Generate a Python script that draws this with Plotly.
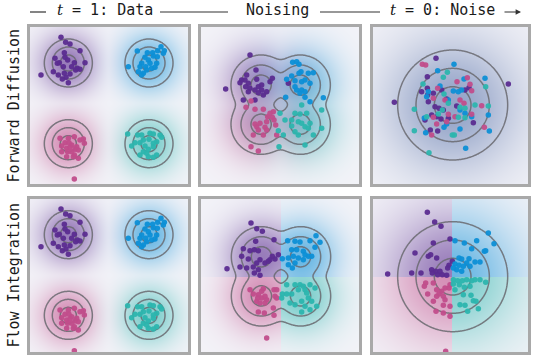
import numpy as np
import plotly.graph_objects as go

# ---------------- data ----------------
MODE_COLORS = ["#5b2c90", "#0d8fd6", "#c14d8b", "#2cb5ae"]  # purple, blue, pink, teal
BG_RGB = (243, 243, 248)

# distribution parameters per stage (chart units)
DATA_CX = [-121, 121, -121, 121]
DATA_CY = [121, 121, -121, -121]
DATA_SIGMA = 24
MID_CX = [-59, 59, -59, 59]
MID_CY = [59, 59, -59, -59]
MID_SIGMA = 30
NOISE_CX = [0, 0, 0, 0]
NOISE_CY = [0, 0, 0, 0]
NOISE_SIGMA = 55
CONTOUR_LEVELS = [1, 2, 3]

TITLE_LABELS = ["<span style='font-family:DejaVu Serif'><i>t</i></span> = 1: Data", "Noising",
                "<span style='font-family:DejaVu Serif'><i>t</i></span> = 0: Noise"]
ROW_LABELS = ["Forward Diffusion", "Flow Integration"]

# samples at t=1 (data)
DATA_PURPLE = [(-143, 198), (-129, 183), (-116, 178), (-86, 158), (-133, 152), (-161, 135), (-131, 138),
               (-148, 122), (-123, 130), (-136, 110), (-103, 122), (-71, 122), (-94, 105), (-86, 102),
               (-99, 100), (-166, 95), (-151, 85), (-133, 90), (-128, 78), (-116, 88), (-139, 73),
               (-121, 62), (-203, 85), (-154, 120), (-111, 110)]
DATA_BLUE = [(86, 157), (116, 152), (132, 152), (157, 170), (147, 158), (164, 150), (146, 140), (134, 142),
             (109, 138), (119, 130), (124, 120), (99, 120), (59, 110), (94, 110), (111, 110), (129, 105),
             (144, 120), (89, 95), (104, 90), (99, 85), (114, 100), (139, 108), (167, 158)]
DATA_PINK = [(-146, -105), (-121, -105), (-103, -100), (-86, -110), (-76, -107), (-73, -120), (-131, -118),
             (-141, -128), (-111, -125), (-126, -135), (-116, -132), (-101, -138), (-91, -140), (-96, -130),
             (-123, -145), (-141, -145), (-103, -155), (-126, -160), (-91, -165), (-106, -160), (-103, -227),
             (-119, -118), (-111, -145)]
DATA_TEAL = [(57, -92), (87, -95), (99, -95), (124, -90), (134, -92), (154, -95), (159, -102), (144, -115),
             (134, -120), (121, -108), (104, -110), (94, -118), (79, -118), (69, -128), (109, -128),
             (119, -138), (134, -130), (104, -145), (94, -155), (119, -160), (144, -155), (134, -162),
             (114, -150)]

# forward diffusion, noising stage
FWD_MID_PURPLE = [(-92, 149), (-74, 104), (-102, 89), (-117, 74), (-107, 74), (-97, 64), (-122, 66), (-92, 49),
                  (-97, 39), (-67, 54), (-57, 59), (-77, 44), (-57, 44), (-42, 39), (-52, 29), (-25, 79),
                  (-32, 69), (-112, 14), (-77, 14), (-165, 47), (-72, 76), (-105, 54), (-67, 36), (23, 64)]
FWD_MID_BLUE = [(36, 127), (48, 129), (55, 121), (61, 99), (83, 94), (98, 96), (18, 76), (33, 86), (43, 72),
                (63, 69), (73, 74), (88, 64), (63, 44), (73, 39), (48, 44), (58, 34), (15, 22), (73, 22),
                (88, 9), (128, 21), (43, 54), (55, 94)]
FWD_MID_PINK = [(-89, 11), (-104, -8), (-77, -14), (-52, -14), (-39, -36), (-25, -38), (-22, -21), (-32, -26),
                (-77, -58), (-72, -66), (-67, -76), (-47, -68), (-42, -76), (-82, -91), (-52, -91), (-15, -61),
                (-12, -91), (-89, -126), (-67, -139), (-62, -56), (-20, -46), (-42, -51)]
FWD_MID_TEAL = [(63, -1), (43, -26), (58, -28), (78, -26), (123, -16), (-2, -26), (13, -46), (33, -46),
                (53, -51), (63, -56), (73, -66), (88, -56), (83, -71), (123, -71), (98, -91), (43, -81),
                (53, -91), (8, -91), (-7, -78), (73, -121), (-5, -126), (33, -64)]

# forward diffusion, t=0 noise
FWD_NOISE_PURPLE = [(-50, 140), (-76, 85), (-76, 50), (-93, 40), (-58, 35), (-33, 45), (-18, 18), (-53, -5),
                    (-41, -10), (-63, -30), (-83, -45), (-48, -35), (-35, -42), (12, -3), (37, 45), (49, 52),
                    (62, -53), (-67, -75), (-45, -78), (167, 63), (-175, 8), (-28, -15), (-73, 10), (-13, -40),
                    (-75, 30)]
FWD_NOISE_BLUE = [(4, 122), (-45, 103), (34, 78), (97, 80), (-73, 40), (-38, 57), (2, 42), (17, 40), (27, 45),
                  (-78, 25), (-13, 15), (22, -15), (37, -25), (57, -35), (-18, -57), (-26, -67), (22, -72),
                  (107, -30), (110, -78), (-81, -83), (39, -130), (-85, -39)]
FWD_NOISE_PINK = [(-91, 122), (-81, 120), (13, 70), (44, 82), (52, 62), (57, 43), (-45, 50), (-58, 20),
                  (-23, 15), (34, 5), (87, -2), (-48, -57), (-18, -50), (7, -35), (-58, -37), (-63, -90),
                  (95, -67), (57, -28), (22, 15), (-13, -28)]
FWD_NOISE_TEAL = [(-16, 98), (-28, 83), (-89, 63), (-26, 33), (99, 55), (-13, 5), (22, -7), (37, -10), (67, 0),
                  (107, -3), (-115, -13), (-78, -35), (-43, -27), (-31, -15), (37, -38), (-1, -90), (5, -90),
                  (-115, -77), (-71, -143), (17, -37)]

# flow integration, noising stage
FLOW_MID_PURPLE = [(-90, 160), (-73, 143), (-56, 135), (-76, 105), (-21, 110), (-113, 83), (-93, 77), (-80, 80),
                   (-68, 77), (-118, 60), (-98, 52), (-63, 50), (-33, 50), (-18, 52), (-8, 65), (-123, 28),
                   (-103, 25), (-83, 28), (-68, 20), (-73, 40), (-48, 40), (-63, 3), (-26, 60), (-162, 23),
                   (-38, 45), (-80, 10)]
FLOW_MID_BLUE = [(20, 107), (42, 105), (57, 103), (87, 107), (105, 122), (117, 102), (32, 80), (47, 80),
                 (67, 75), (82, 60), (92, 60), (102, 87), (4, 53), (22, 55), (37, 60), (52, 55), (67, 50),
                 (42, 40), (22, 35), (34, 25), (72, 65)]
FLOW_MID_PINK = [(-93, -40), (-53, -37), (-21, -40), (-13, -40), (-83, -53), (-68, -55), (-58, -65), (-48, -60),
                 (-43, -70), (-73, -75), (-63, -80), (-48, -80), (-18, -60), (-13, -65), (-23, -95),
                 (-68, -107), (-50, -110), (-21, -117), (-43, -185), (-58, -45), (-70, -65)]
FLOW_MID_TEAL = [(17, -25), (42, -25), (57, -25), (67, -30), (87, -25), (102, -35), (4, -53), (17, -53),
                 (32, -53), (52, -40), (72, -40), (2, -65), (27, -80), (42, -85), (62, -75), (82, -65),
                 (92, -75), (72, -90), (62, -107), (87, -100), (107, -90), (77, -50)]

# flow integration, t=0 noise
FLOW_NOISE_PURPLE = [(-76, 193), (-54, 164), (-35, 151), (-58, 101), (-113, 71), (-73, 61), (-66, 66),
                     (-48, 56), (-8, 113), (-1, 46), (-11, 34), (-15, 26), (-123, 11), (-95, 11), (-63, 21),
                     (-51, 16), (-45, 6), (-31, 6), (-18, 4), (-38, 16), (-195, 8), (-61, 11)]
FLOW_NOISE_BLUE = [(107, 131), (124, 99), (7, 108), (35, 101), (72, 108), (57, 84), (95, 76), (19, 56),
                   (27, 53), (49, 54), (67, 44), (82, 44), (7, 38), (19, 34), (32, 31), (52, 31), (42, 41),
                   (2, 26), (12, 21), (27, 16), (99, 78)]
FLOW_NOISE_PINK = [(-81, -19), (-58, -19), (-85, -29), (-75, -52), (-48, -39), (-33, -44), (-41, -52),
                   (-48, -59), (-28, -59), (-23, -69), (-11, -34), (-8, -24), (-58, -74), (-28, -86),
                   (-8, -89), (-50, -104), (-28, -109), (-8, -119), (-21, -224), (-23, -34)]
FLOW_NOISE_TEAL = [(2, -9), (15, -12), (29, -12), (42, -9), (57, -12), (67, -9), (82, -9), (99, -17),
                   (20, -24), (35, -32), (7, -39), (52, -29), (32, -54), (22, -84), (37, -86), (62, -72),
                   (55, -56), (70, -74), (45, -104), (77, -96), (2, -22)]

# ---------------- layout geometry ----------------
W, H = 533, 357
GAMMA = 0.15
AMAX = 0.6

def fx(px):
    return px / W

def fy(py):
    return 1 - py / H

# (row, col): inner box (left, top, right, bottom) in px, x range, y range
PANELS = {
    (1, 1): ((30, 27, 188, 184), [-236, 238], [-242, 229]),
    (1, 2): ((201, 27, 359, 184), [-239, 235], [-238, 233]),
    (1, 3): ((373, 27, 528, 184), [-239, 226], [-237, 234]),
    (2, 1): ((30, 199, 188, 352), [-236, 238], [-231, 228]),
    (2, 2): ((201, 199, 359, 352), [-240, 234], [-227, 232]),
    (2, 3): ((373, 199, 528, 352), [-239, 226], [-226, 233]),
}

STAGES = {
    1: (DATA_CX, DATA_CY, DATA_SIGMA),
    2: (MID_CX, MID_CY, MID_SIGMA),
    3: (NOISE_CX, NOISE_CY, NOISE_SIGMA),
}

SAMPLES = {
    (1, 1): [DATA_PURPLE, DATA_BLUE, DATA_PINK, DATA_TEAL],
    (1, 2): [FWD_MID_PURPLE, FWD_MID_BLUE, FWD_MID_PINK, FWD_MID_TEAL],
    (1, 3): [FWD_NOISE_PURPLE, FWD_NOISE_BLUE, FWD_NOISE_PINK, FWD_NOISE_TEAL],
    (2, 1): [DATA_PURPLE, DATA_BLUE, DATA_PINK, DATA_TEAL],
    (2, 2): [FLOW_MID_PURPLE, FLOW_MID_BLUE, FLOW_MID_PINK, FLOW_MID_TEAL],
    (2, 3): [FLOW_NOISE_PURPLE, FLOW_NOISE_BLUE, FLOW_NOISE_PINK, FLOW_NOISE_TEAL],
}

STEP = 3.0
G = np.arange(-246, 246.1, STEP)
XX, YY = np.meshgrid(G, G)


def hex_rgb(h):
    h = h.lstrip("#")
    return np.array([int(h[i:i + 2], 16) for i in (0, 2, 4)], dtype=float)


COLS = [hex_rgb(c) for c in MODE_COLORS]
BG = np.array(BG_RGB, dtype=float)


def stage_fields(stage, hard_quadrants):
    cx, cy, s = STAGES[stage]
    comps = [np.exp(-((XX - x) ** 2 + (YY - y) ** 2) / (2 * s * s)) for x, y in zip(cx, cy)]
    p = sum(comps)
    pmax = p.max()
    rel = p / pmax
    alpha = AMAX * rel ** GAMMA
    if hard_quadrants:
        masks = [(XX < 0) & (YY >= 0), (XX >= 0) & (YY >= 0), (XX < 0) & (YY < 0), (XX >= 0) & (YY < 0)]
        w = [m.astype(float) for m in masks]
    else:
        g = [c ** GAMMA for c in comps]
        tot = sum(g) + 1e-300
        w = [gi / tot for gi in g]
    col = sum(w[k][..., None] * COLS[k][None, None, :] for k in range(4))
    rgb = BG[None, None, :] * (1 - alpha[..., None]) + col * alpha[..., None]
    img = np.clip(np.round(rgb), 0, 255).astype(np.uint8)
    z = np.sqrt(np.clip(-2 * np.log(rel + 1e-300), 0, 200))
    return img, z


fig = go.Figure()
layout_axes = {}
shapes = []
idx = 0
for (r, c), (box, xr, yr) in PANELS.items():
    idx += 1
    xa = "x" if idx == 1 else f"x{idx}"
    ya = "y" if idx == 1 else f"y{idx}"
    l, t, rr, b = box
    layout_axes["xaxis" if idx == 1 else f"xaxis{idx}"] = dict(
        domain=[fx(l), fx(rr)], range=xr, visible=False, anchor=ya, fixedrange=True)
    layout_axes["yaxis" if idx == 1 else f"yaxis{idx}"] = dict(
        domain=[fy(b), fy(t)], range=yr, visible=False, anchor=xa, fixedrange=True, scaleanchor=False)

    img, z = stage_fields(c, hard_quadrants=(r == 2 and c > 1))
    fig.add_trace(go.Image(z=img, x0=G[0], dx=STEP, y0=G[0], dy=STEP, xaxis=xa, yaxis=ya,
                           hoverinfo="skip"))
    fig.add_trace(go.Contour(x=G, y=G, z=z, xaxis=xa, yaxis=ya, autocontour=False,
                             contours=dict(start=CONTOUR_LEVELS[0], end=CONTOUR_LEVELS[-1],
                                           size=1, coloring="none"),
                             line=dict(color="rgba(105,105,110,0.85)", width=1.5, smoothing=1),
                             showscale=False, hoverinfo="skip"))
    for k, pts in enumerate(SAMPLES[(r, c)]):
        fig.add_trace(go.Scatter(x=[p[0] for p in pts], y=[p[1] for p in pts], mode="markers",
                                 xaxis=xa, yaxis=ya, hoverinfo="skip",
                                 marker=dict(size=5.5, color=MODE_COLORS[k], opacity=0.95,
                                             line=dict(width=0))))
    shapes.append(dict(type="rect", xref="paper", yref="paper",
                       x0=fx(l - 1.5), x1=fx(rr + 1.5), y0=fy(b + 1.5), y1=fy(t - 1.5),
                       line=dict(color="#a9a9a9", width=3), fillcolor="rgba(0,0,0,0)", layer="above"))

# header lines
LINE_Y = 12
for x0, x1 in [(30, 46), (160, 228), (320, 380)]:
    shapes.append(dict(type="line", xref="paper", yref="paper", x0=fx(x0), x1=fx(x1),
                       y0=fy(LINE_Y), y1=fy(LINE_Y), line=dict(color="#333333", width=1.2)))

annotations = []
FONT = dict(family="DejaVu Sans Mono", size=15, color="#1a1a1a")
for label, cx in zip(TITLE_LABELS, [104.5, 277, 442]):
    annotations.append(dict(text=label, x=fx(cx), y=fy(10), xref="paper", yref="paper",
                            showarrow=False, xanchor="center", yanchor="middle", font=FONT))
for label, cy in zip(ROW_LABELS, [105.5, 275.5]):
    annotations.append(dict(text=label, x=fx(13), y=fy(cy), xref="paper", yref="paper",
                            showarrow=False, xanchor="center", yanchor="middle", textangle=-90,
                            font=FONT))
annotations.append(dict(text="", x=fx(521), y=fy(LINE_Y), ax=-18, ay=0,
                        xref="paper", yref="paper", axref="pixel", ayref="pixel",
                        showarrow=True, arrowhead=2, arrowsize=0.9, arrowwidth=1.2,
                        arrowcolor="#333333"))

fig.update_layout(width=W, height=H, margin=dict(l=0, r=0, t=0, b=0),
                  paper_bgcolor="white", plot_bgcolor="white", showlegend=False,
                  shapes=shapes, annotations=annotations, **layout_axes)
fig.write_html("out.html", config={"displayModeBar": False},
               post_script="document.body.style.margin='0px';")
